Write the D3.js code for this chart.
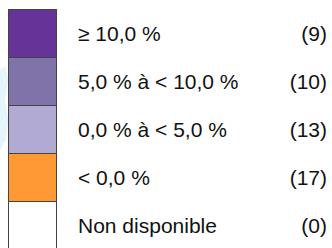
<!DOCTYPE html>
<html>
<head>
<meta charset="utf-8">
<script src="https://cdn.jsdelivr.net/npm/d3@7"></script>
<style>
  body { margin: 0; background: #fff; }
  svg { display: block; }
</style>
</head>
<body>
<svg id="legend" width="332" height="248"></svg>
<script>
// legend classes, top to bottom
var labels = ['≥ 10,0 %', '5,0 % à < 10,0 %', '0,0 % à < 5,0 %', '< 0,0 %', 'Non disponible'];
var counts = [9, 10, 13, 17, 0];
var colors = ['#663399', '#7f73aa', '#b1aad2', '#ff9933', '#ffffff'];

var svg = d3.select('#legend');

// faint bit of map peeking out on the left edge
svg.append('path')
  .attr('d', 'M0,70 L6,66 L8,80 L5,100 L8,120 L6,140 L0,150 Z')
  .style('fill', '#dff3fb')
  .style('opacity', 0.8);

var y = d3.scaleBand()
  .domain(labels)
  .range([9, 249])
  .padding(0);

var boxX = 8.5, boxW = 48;

var rows = svg.selectAll('g.row')
  .data(labels)
  .enter()
  .append('g')
  .attr('class', 'row');

rows.append('rect')
  .attr('x', boxX)
  .attr('y', d => y(d) + 0.5)
  .attr('width', boxW)
  .attr('height', y.bandwidth())
  .style('fill', (d, i) => colors[i])
  .style('stroke', '#444')
  .style('stroke-width', 1);

rows.append('text')
  .attr('x', 78)
  .attr('y', d => y(d) + y.bandwidth() / 2 + 1)
  .attr('dy', '0.35em')
  .style('font-family', 'Liberation Sans, Arial, sans-serif')
  .style('font-size', '21px')
  .style('fill', '#111')
  .text(d => d);

rows.append('text')
  .attr('x', 327)
  .attr('y', d => y(d) + y.bandwidth() / 2 + 1)
  .attr('dy', '0.35em')
  .attr('text-anchor', 'end')
  .style('font-family', 'Liberation Sans, Arial, sans-serif')
  .style('font-size', '21px')
  .style('fill', '#111')
  .text((d, i) => '(' + counts[i] + ')');
</script>
</body>
</html>
